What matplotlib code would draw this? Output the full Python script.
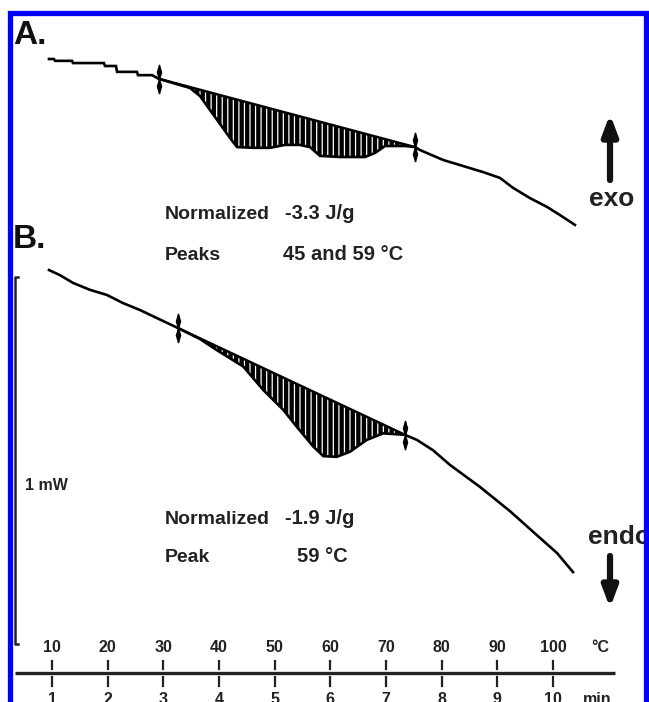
import numpy as np
import matplotlib
matplotlib.use("Agg")
import matplotlib.pyplot as plt
from matplotlib.patches import Rectangle

# ---------------- data ----------------
# Trace A (temperature in degC, heat flow in mW, arbitrary offset)
curve_a_T = [9.46, 10.36, 10.54, 13.59, 13.77, 19.34, 19.52, 21.50, 21.68, 25.27, 25.45, 27.97,
             29.22, 32.99, 34.79, 36.59, 39.28, 41.97, 43.23, 46.47, 49.16, 51.85, 54.55, 56.34,
             58.14, 61.73, 66.22, 68.02, 69.82, 71.61, 73.41, 75.21,
             76.11, 80.24, 83.29, 87.42, 90.47, 92.81, 95.86, 98.92, 101.23, 103.93]
curve_a_mW = [1.752, 1.752, 1.747, 1.747, 1.741, 1.741, 1.733, 1.733, 1.717, 1.717, 1.708, 1.708,
              1.698, 1.681, 1.673, 1.651, 1.594, 1.537, 1.512, 1.510, 1.510, 1.518, 1.518, 1.512,
              1.488, 1.485, 1.485, 1.496, 1.515, 1.515, 1.515, 1.512,
              1.504, 1.477, 1.463, 1.444, 1.428, 1.401, 1.373, 1.349, 1.327, 1.300]
limits_a = [29.22, 75.21]      # integration limits (degC)

# Trace B
curve_b_T = [9.46, 11.44, 13.77, 16.83, 19.88, 22.75, 25.81, 28.86,
             32.63, 36.59, 39.59, 44.36, 47.96, 51.55, 53.96, 56.94, 58.73, 61.14, 63.53,
             66.53, 69.51, 73.41,
             75.57, 78.44, 81.49, 86.88, 92.27, 97.66, 100.71, 103.59]
curve_b_mW = [1.177, 1.163, 1.142, 1.123, 1.109, 1.087, 1.068, 1.046,
              1.019, 0.989, 0.959, 0.914, 0.850, 0.796, 0.750, 0.696, 0.670, 0.668, 0.682,
              0.714, 0.732, 0.728,
              0.714, 0.686, 0.646, 0.586, 0.520, 0.447, 0.406, 0.354]
limits_b = [32.63, 73.41]

temp_ticks = [10, 20, 30, 40, 50, 60, 70, 80, 90, 100]
min_ticks = [1, 2, 3, 4, 5, 6, 7, 8, 9, 10]

text_a = ["Normalized", "-3.3 J/g", "Peaks", "45 and 59 °C"]
text_b = ["Normalized", "-1.9 J/g", "Peak", "59 °C"]

# ---------------- figure ----------------
W, H = 649, 702
plt.rcParams['font.family'] = ['Liberation Sans', 'DejaVu Sans']
plt.rcParams['hatch.linewidth'] = 3.1
fig = plt.figure(figsize=(W / 100, H / 100), dpi=100)
ax = fig.add_axes([0, 0, 1, 1])
px_per_deg = 5.567
px_per_mW = 367.0
ax.set_xlim(10 - 52 / px_per_deg, 10 + (W - 52) / px_per_deg)
ax.set_ylim(0, H / px_per_mW)
ax.axis('off')

def fx(px):
    return px / W

def fy(py):
    return 1 - py / H

dy = 1 / px_per_mW  # one pixel in mW


def draw_trace(T, P, lims):
    T = np.asarray(T)
    P = np.asarray(P)
    ax.plot(T, P, color='black', lw=1.9, solid_joinstyle='miter', zorder=3)
    p0 = np.interp(lims[0], T, P)
    p1 = np.interp(lims[1], T, P)
    m = (T >= lims[0]) & (T <= lims[1])
    Ts = T[m]
    base = p0 + (p1 - p0) * (Ts - lims[0]) / (lims[1] - lims[0])
    ax.fill_between(Ts, P[m], base, facecolor='white', edgecolor='black',
                    hatch='|||', linewidth=0, zorder=2)
    ax.plot([lims[0], lims[1]], [p0, p1], color='black', lw=1.8, zorder=3)
    spindle = [(0, -1), (0.3, 0), (0, 1), (-0.3, 0), (0, -1)]
    for t, p in ((lims[0], p0), (lims[1], p1)):
        ax.plot([t, t], [p - 14 * dy, p + 14 * dy], color='black', lw=1.0, zorder=4)
        ax.plot([t, t], [p - 7 * dy, p + 7 * dy], ls='none', marker=spindle,
                markersize=10, color='black', zorder=4)


draw_trace(curve_a_T, curve_a_mW, limits_a)
draw_trace(curve_b_T, curve_b_mW, limits_b)

# ---------------- temperature / time axis ----------------
axis_y = (H - 673) / px_per_mW
x_left = 10 + (15 - 52) / px_per_deg
x_right = 10 + (615 - 52) / px_per_deg
ax.plot([x_left, x_right], [axis_y, axis_y], color='#222222', lw=2.4, solid_capstyle='butt')
tick_fs = 11.5
for t, mn in zip(temp_ticks, min_ticks):
    ax.plot([t, t], [axis_y + 4 * dy, axis_y + 12 * dy], color='#222222', lw=1.6)
    ax.plot([t, t], [axis_y - 4 * dy, axis_y - 13 * dy], color='#222222', lw=1.6)
    ax.text(t, (H - 647) / px_per_mW, str(t), ha='center', va='center',
            fontsize=tick_fs, fontweight='bold', color='#222222')
    ax.text(t, (H - 692) / px_per_mW, str(mn), ha='center', va='top',
            fontsize=tick_fs, fontweight='bold', color='#222222')
ax.text(10 + (600 - 52) / px_per_deg, (H - 647) / px_per_mW, "°C", ha='center', va='center',
        fontsize=tick_fs, fontweight='bold', color='#222222')
ax.text(10 + (597 - 52) / px_per_deg, (H - 692) / px_per_mW, "min", ha='center', va='top',
        fontsize=tick_fs, fontweight='bold', color='#222222')

# ---------------- scale bar ----------------
bar_x = 10 + (15 - 52) / px_per_deg
bar_y0 = (H - 644) / px_per_mW
cap = 3 / px_per_deg
ax.plot([bar_x + cap, bar_x, bar_x, bar_x + cap], [bar_y0, bar_y0, bar_y0 + 1.0, bar_y0 + 1.0],
        color='#222222', lw=1.8)
fig.text(fx(25), fy(485), "1 mW", ha='left', va='center', fontsize=11.5, fontweight='bold',
         color='#222222')

# ---------------- labels ----------------
fig.text(fx(13), fy(44), "A.", fontsize=24, fontweight='bold', va='baseline', color='#111111')
fig.text(fx(13), fy(248), "B.", fontsize=24, fontweight='bold', va='baseline', color='#111111')

fs = 14
fs2 = 14.5
fig.text(fx(165), fy(219), text_a[0], fontsize=fs, fontweight='bold', va='baseline', color='#222222')
fig.text(fx(285), fy(219), text_a[1], fontsize=fs2, fontweight='bold', va='baseline', color='#222222')
fig.text(fx(165), fy(260), text_a[2], fontsize=fs, fontweight='bold', va='baseline', color='#222222')
fig.text(fx(283), fy(260), text_a[3], fontsize=fs2, fontweight='bold', va='baseline', color='#222222')
fig.text(fx(165), fy(524), text_b[0], fontsize=fs, fontweight='bold', va='baseline', color='#222222')
fig.text(fx(285), fy(524), text_b[1], fontsize=fs2, fontweight='bold', va='baseline', color='#222222')
fig.text(fx(165), fy(562), text_b[2], fontsize=fs, fontweight='bold', va='baseline', color='#222222')
fig.text(fx(297), fy(562), text_b[3], fontsize=fs2, fontweight='bold', va='baseline', color='#222222')

fig.text(fx(612), fy(206), "exo", fontsize=19, fontweight='bold', ha='center', va='baseline',
         color='#222222')
fig.text(fx(588), fy(544), "endo", fontsize=19, fontweight='bold', ha='left', va='baseline',
         color='#222222')

# arrows
ax.annotate("", xy=(fx(610), fy(114)), xytext=(fx(610), fy(180)),
            xycoords='figure fraction', textcoords='figure fraction',
            arrowprops=dict(arrowstyle='-|>,head_length=1.2,head_width=0.45', lw=4.5,
                            color='#111111', shrinkA=0, shrinkB=0))
ax.annotate("", xy=(fx(610), fy(608)), xytext=(fx(610), fy(556)),
            xycoords='figure fraction', textcoords='figure fraction',
            arrowprops=dict(arrowstyle='-|>,head_length=1.2,head_width=0.45', lw=4.5,
                            color='#111111', shrinkA=0, shrinkB=0))

# blue frame
frame = Rectangle((fx(10), -0.05), fx(646) - fx(10), fy(13) + 0.05, transform=fig.transFigure,
                  fill=False, edgecolor='#0000ff', lw=3.8, zorder=10)
fig.patches.append(frame)

fig.savefig("out.png", dpi=100)
